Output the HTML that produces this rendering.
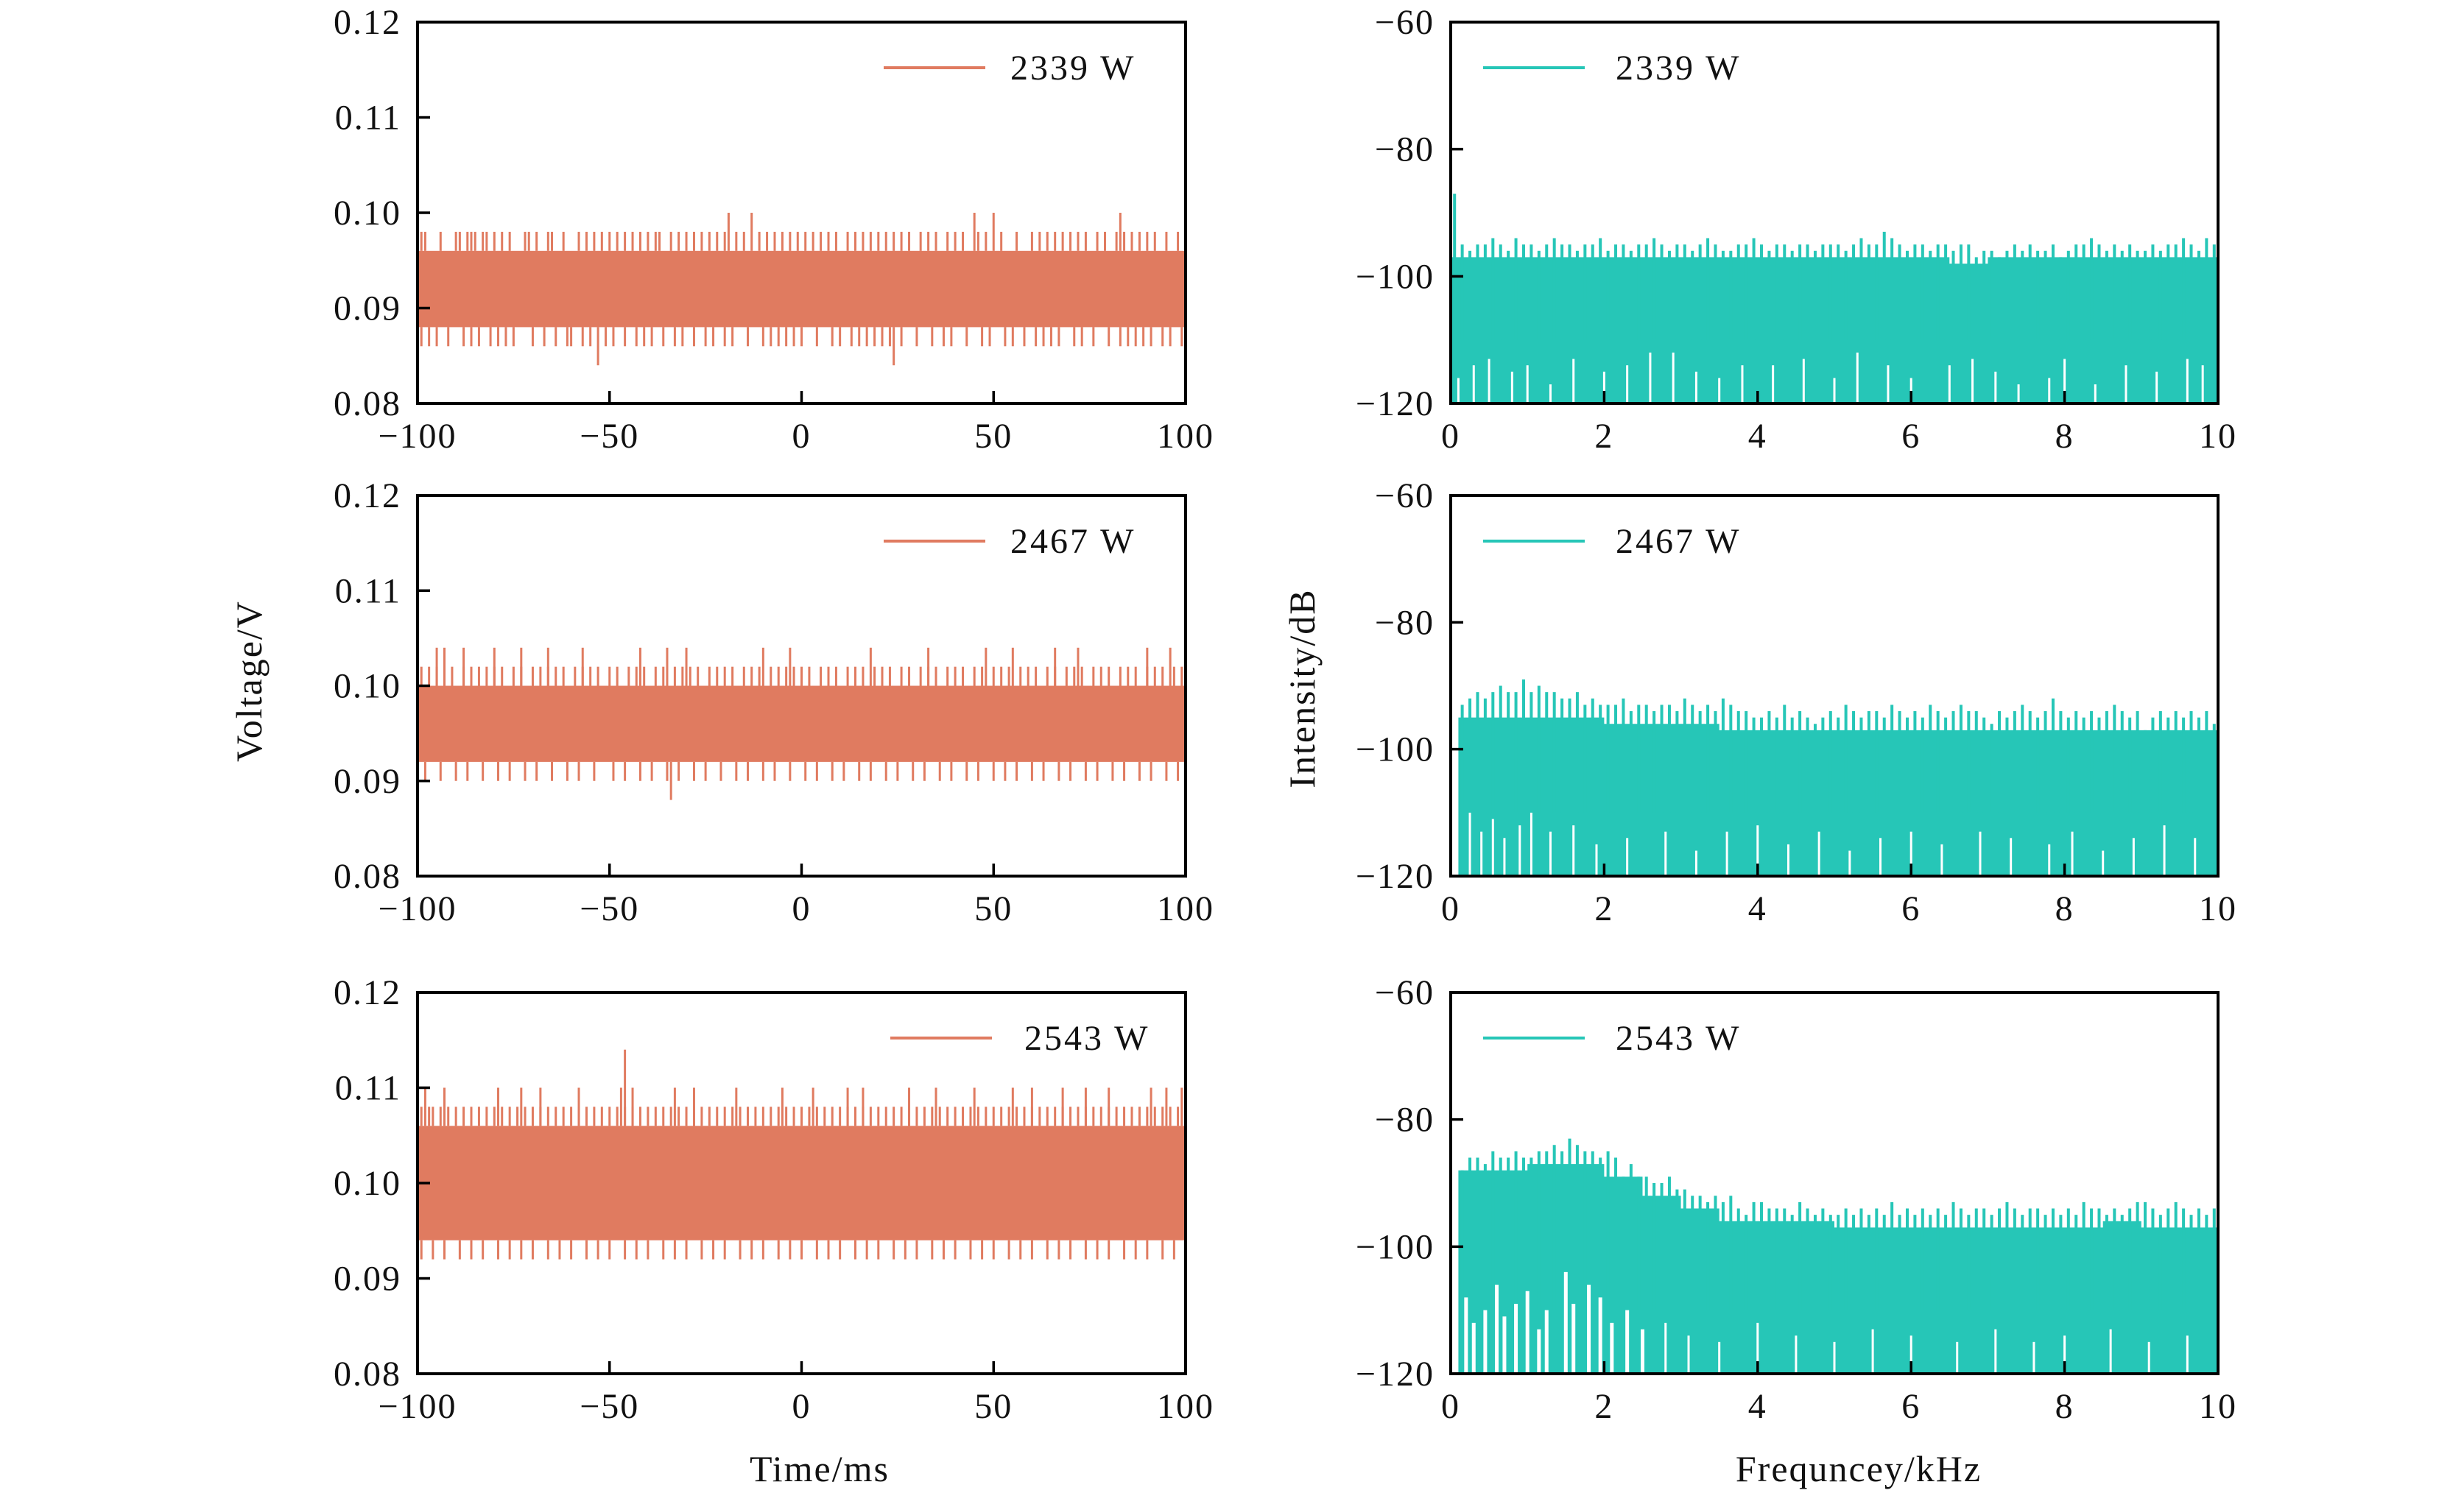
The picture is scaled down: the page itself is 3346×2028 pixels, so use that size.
<!DOCTYPE html>
<html><head><meta charset="utf-8">
<style>
html,body{margin:0;padding:0;background:#fff;}
svg{display:block;}
text{font-family:"Liberation Serif","DejaVu Serif",serif;fill:#111;}
</style></head>
<body>
<svg id="fig" width="3346" height="2028" viewBox="0 0 3346 2028" xmlns="http://www.w3.org/2000/svg">
<text x="0" y="0" font-size="50" letter-spacing="2" text-anchor="middle" transform="translate(355,925) rotate(-90)">Voltage/V</text>
<text x="0" y="0" font-size="50" letter-spacing="2" text-anchor="middle" transform="translate(1785,935) rotate(-90)">Intensity/dB</text>
<text x="1113" y="2012" font-size="50" letter-spacing="2" text-anchor="middle">Time/ms</text>
<text x="2524" y="2012" font-size="50" letter-spacing="2" text-anchor="middle">Frequncey/kHz</text>
</svg>
<script>
// ---------- time-domain data (ms, V) ----------
const timeLabels = ["2339 W","2467 W","2543 W"];
const bandLow = [0.088, 0.092, 0.094];
const bandHigh = [0.096, 0.100, 0.106];
const spikeUpLevel1 = [0.098, 0.102, 0.108];
const spikeUpLevel2 = [0.100, 0.104, 0.110];
const spikeUpLevel3 = [null, null, 0.114];
const spikeDownLevel1 = [0.086, 0.090, 0.092];
const spikeDownLevel2 = [0.084, 0.088, null];
const up1Pos0 = [-99,-98,-94,-90,-89,-87,-86,-85,-83,-82,-80,-78,-76,-72,-71,-69,-66,-65,-62,-58,-56,-54,-52,-50,-48,-46,-44,-42,-40,-38,-37,-34,-32,-30,-28,-26,-24,-22,-20,-17,-15,-11,-9,-7,-5,-3,-1,1,3,5,7,9,12,14,16,18,20,22,24,26,28,31,33,35,38,40,42,46,48,52,56,60,62,64,66,68,70,72,74,77,79,82,84,86,88,90,92,95,98];
const up2Pos0 = [-19,-13,45,50,83];
const up3Pos0 = [];
const dn1Pos0 = [-99,-97,-95,-92,-88,-86,-84,-81,-79,-77,-75,-70,-67,-64,-61,-60,-57,-55,-51,-49,-46,-43,-41,-39,-36,-33,-31,-28,-25,-23,-20,-18,-14,-10,-8,-6,-4,-2,0,4,8,10,13,15,17,19,21,23,26,30,34,37,39,43,47,49,53,55,58,61,63,65,67,71,73,76,80,83,85,87,89,91,94,96,99];
const dn2Pos0 = [-53,24];
const up1Pos1 = [-99,-97,-95,-93,-91,-88,-86,-84,-82,-80,-78,-75,-73,-70,-68,-66,-64,-62,-59,-57,-55,-53,-50,-48,-45,-43,-41,-38,-36,-33,-31,-29,-27,-24,-22,-20,-18,-15,-13,-11,-8,-6,-4,-2,0,2,5,7,9,12,14,16,19,21,23,26,28,31,33,35,38,40,42,45,47,50,52,54,57,59,61,64,66,69,71,73,76,78,80,83,85,87,90,92,94,97,99];
const up2Pos1 = [-95,-93,-88,-80,-73,-66,-57,-42,-35,-30,-10,-3,18,33,48,55,66,72,90,96];
const up3Pos1 = [];
const dn1Pos1 = [-98,-94,-90,-87,-83,-79,-76,-72,-69,-65,-61,-58,-54,-49,-46,-42,-39,-35,-32,-28,-25,-21,-17,-14,-10,-7,-3,1,4,8,11,15,18,22,25,29,32,36,39,43,46,50,53,56,60,63,67,70,74,77,81,84,88,91,95,98];
const dn2Pos1 = [-34];
const up1Pos2 = [-99,-97,-96,-94,-92,-90,-88,-86,-84,-82,-80,-78,-76,-74,-72,-70,-68,-66,-64,-62,-60,-58,-56,-54,-52,-50,-48,-46,-44,-42,-40,-38,-36,-34,-32,-30,-28,-26,-24,-22,-20,-18,-16,-14,-12,-10,-8,-6,-4,-2,0,2,4,6,8,10,12,14,16,18,20,22,24,26,28,30,32,34,36,38,40,42,44,46,48,50,52,54,56,58,60,62,64,66,68,70,72,74,76,78,80,82,84,86,88,90,92,94,96,98];
const up2Pos2 = [-98,-93,-79,-73,-68,-58,-47,-44,-33,-28,-17,-5,3,12,16,28,35,45,55,60,68,74,80,91,95,99];
const up3Pos2 = [-46];
const dn1Pos2 = [-99,-96,-93,-89,-86,-83,-79,-76,-73,-70,-66,-63,-60,-56,-53,-50,-46,-43,-40,-36,-33,-30,-26,-23,-20,-16,-13,-10,-6,-3,0,4,7,10,14,17,20,24,27,30,34,37,40,44,47,50,54,57,60,64,67,70,74,77,80,84,87,90,94,97,100];
const dn2Pos2 = [];

// ---------- spectra data (kHz, dB) ----------
const specStart = [0.0, 0.1, 0.1];
const solidTop0 = [-97,-97,-97,-97,-97,-97,-97,-97,-97,-97,-97,-97,-97,-98,-97,-97,-97,-97,-97,-97];
const solidTop1 = [-95,-95,-95,-95,-96,-96,-96,-97,-97,-97,-97,-97,-97,-97,-97,-97,-97,-97,-97,-97];
const solidTop2 = [-88,-88,-87,-87,-89,-92,-94,-96,-96,-96,-97,-97,-97,-97,-97,-97,-97,-96,-97,-97];
const peaks0 = [-87,-95,-96,-95,-95,-94,-95,-96,-94,-95,-95,-96,-95,-94,-95,-95,-96,-95,-95,-94,-96,-95,-95,-96,-95,-95,-94,-95,-96,-95,-95,-96,-95,-94,-95,-96,-96,-95,-95,-94,-95,-96,-95,-95,-96,-95,-95,-96,-95,-95,-95,-96,-95,-94,-95,-95,-93,-94,-95,-96,-95,-95,-96,-95,-95,-96,-95,-95,-97,-96,-96,-97,-96,-95,-96,-95,-96,-96,-95,-97,-96,-95,-95,-94,-95,-96,-95,-96,-95,-96,-96,-95,-96,-95,-95,-94,-95,-96,-94,-95];
const peaks1 = [null,-93,-92,-91,-92,-91,-90,-91,-91,-89,-91,-90,-91,-91,-92,-92,-91,-93,-92,-93,-93,-93,-92,-94,-93,-93,-94,-93,-93,-94,-92,-93,-94,-93,-94,-92,-93,-94,-94,-95,-95,-94,-95,-93,-95,-94,-95,-96,-95,-94,-95,-93,-94,-95,-94,-94,-95,-93,-94,-95,-94,-95,-93,-94,-95,-94,-93,-94,-94,-95,-96,-94,-95,-94,-93,-94,-95,-94,-92,-94,-95,-94,-95,-94,-95,-94,-93,-94,-95,-94,-97,-95,-94,-95,-94,-95,-94,-95,-94,-96];
const peaks2 = [null,-88,-86,-86,-87,-85,-86,-86,-85,-86,-86,-85,-85,-84,-85,-83,-84,-85,-85,-86,-85,-86,-89,-87,-89,-89,-90,-90,-89,-91,-91,-92,-92,-93,-92,-93,-92,-94,-95,-93,-93,-94,-94,-94,-95,-93,-94,-95,-94,-95,-95,-94,-95,-94,-95,-94,-95,-93,-95,-94,-95,-94,-95,-94,-95,-93,-94,-95,-94,-94,-95,-94,-93,-94,-95,-94,-94,-95,-94,-95,-94,-95,-93,-94,-94,-95,-94,-95,-94,-93,-93,-94,-95,-94,-93,-94,-95,-94,-95,-94];
const dips0 = [[0.1,-116],[0.3,-114],[0.5,-113],[0.8,-115],[1.0,-114],[1.3,-117],[1.6,-113],[2.0,-115],[2.3,-114],[2.6,-112],[2.9,-112],[3.2,-115],[3.5,-116],[3.8,-114],[4.2,-114],[4.6,-113],[5.0,-116],[5.3,-112],[5.7,-114],[6.0,-116],[6.5,-114],[6.8,-113],[7.1,-115],[7.4,-117],[7.8,-116],[8.0,-113],[8.4,-117],[8.8,-114],[9.2,-115],[9.6,-113],[9.8,-114]];
const dips1 = [[0.25,-110],[0.4,-113],[0.55,-111],[0.7,-114],[0.9,-112],[1.05,-110],[1.3,-113],[1.6,-112],[1.9,-115],[2.3,-114],[2.8,-113],[3.2,-116],[3.6,-113],[4.0,-112],[4.4,-115],[4.8,-113],[5.2,-116],[5.6,-114],[6.0,-113],[6.4,-115],[6.9,-113],[7.3,-114],[7.8,-115],[8.1,-113],[8.5,-116],[8.9,-114],[9.3,-112],[9.7,-114]];
const dips2 = [[0.2,-108],[0.3,-112],[0.45,-110],[0.6,-106],[0.7,-111],[0.85,-109],[1.0,-107],[1.15,-113],[1.25,-110],[1.5,-104],[1.6,-109],[1.8,-106],[1.95,-108],[2.1,-112],[2.3,-110],[2.5,-113],[2.8,-112],[3.1,-114],[3.5,-115],[4.0,-112],[4.5,-114],[5.0,-115],[5.5,-113],[6.0,-114],[6.6,-115],[7.1,-113],[7.6,-115],[8.0,-114],[8.6,-113],[9.1,-115],[9.6,-114]];

const timeTicksX = [-100,-50,0,50,100];
const timeTickLabelsX = ["\u2212100","\u221250","0","50","100"];
const timeTicksY = [0.08,0.09,0.10,0.11,0.12];
const timeTickLabelsY = ["0.08","0.09","0.10","0.11","0.12"];
const freqTicksX = [0,2,4,6,8,10];
const freqTickLabelsX = ["0","2","4","6","8","10"];
const freqTicksY = [-120,-100,-80,-60];
const freqTickLabelsY = ["\u2212120","\u2212100","\u221280","\u221260"];

const ORANGE = "#E07B60", TEAL = "#26C6B7";
const rows = [[30,548],[673,1190],[1348,1866]];
const colL = [567,1610], colR = [1970,3012];
const svg = document.getElementById('fig');
const NS = "http://www.w3.org/2000/svg";
function mk(tag, attrs, parent){
  const e = document.createElementNS(NS, tag);
  for (const k in attrs) e.setAttribute(k, attrs[k]);
  (parent||svg).appendChild(e);
  return e;
}

function axes(g, x0,x1,y0,y1, xs, ys, tX, tXL, tY, tYL){
  tX.forEach((v,i)=>{
    const t = mk('line',{x1:xs(v),x2:xs(v),y1:y1,y2:y1-17,stroke:'#000','stroke-width':3.5},g);
    
    
    const l = mk('text',{x:xs(v),y:y1+60,'font-size':48,'letter-spacing':2,'text-anchor':'middle'},g);
    l.textContent = tXL[i];
    
    
  });
  tY.forEach((v,i)=>{
    const t = mk('line',{x1:x0,x2:x0+17,y1:ys(v),y2:ys(v),stroke:'#000','stroke-width':3.5},g);
    
    
    const l = mk('text',{x:x0-22,y:ys(v)+16,'font-size':48,'letter-spacing':2,'text-anchor':'end'},g);
    l.textContent = tYL[i];
    
    
  });
  const f = mk('rect',{x:x0,y:y0,width:x1-x0,height:y1-y0,fill:'none',stroke:'#000','stroke-width':4},g);
  
  
}

function legend(g, lx, y, label, color, textX){
  const ln = mk('line',{x1:lx,x2:lx+138,y1:y,y2:y,stroke:color,'stroke-width':4},g);
  
  
  const t = mk('text',{x:textX,y:y+16,'font-size':48,'letter-spacing':3},g);
  t.textContent = label;
  
  
}

const up1 = [up1Pos0, up1Pos1, up1Pos2], up2 = [up2Pos0, up2Pos1, up2Pos2], up3 = [up3Pos0, up3Pos1, up3Pos2];
const dn1 = [dn1Pos0, dn1Pos1, dn1Pos2], dn2 = [dn2Pos0, dn2Pos1, dn2Pos2];
const solids = [solidTop0, solidTop1, solidTop2], peaks = [peaks0, peaks1, peaks2], dips = [dips0, dips1, dips2];

for (let r=0;r<3;r++){
  const [y0,y1] = rows[r];
  const [x0,x1] = colL;
  const g = mk('g',{});
  
  
  const xs = v => x0 + (v+100)/200*(x1-x0);
  const ys = v => y1 - (v-0.08)/0.04*(y1-y0);
  const band = mk('rect',{x:xs(-100),y:ys(bandHigh[r]),width:xs(100)-xs(-100),height:ys(bandLow[r])-ys(bandHigh[r]),fill:ORANGE},g);
  
  
  const spk = (list, from, to, name) => {
    if (to===null) return;
    list.forEach(p=>{
      const s = mk('line',{x1:xs(p),x2:xs(p),y1:ys(from),y2:ys(to),stroke:ORANGE,'stroke-width':3},g);
      
      
    });
  };
  spk(up1[r], bandHigh[r], spikeUpLevel1[r], 'voltage-spike-up');
  spk(up2[r], bandHigh[r], spikeUpLevel2[r], 'voltage-spike-up-high');
  spk(up3[r], bandHigh[r], spikeUpLevel3[r], 'voltage-spike-up-max');
  spk(dn1[r], bandLow[r], spikeDownLevel1[r], 'voltage-spike-down');
  spk(dn2[r], bandLow[r], spikeDownLevel2[r], 'voltage-spike-down-low');
  axes(g,x0,x1,y0,y1,xs,ys,timeTicksX,timeTickLabelsX,timeTicksY,timeTickLabelsY);
  legend(g, r===2?1209:1200, y0+62, timeLabels[r], ORANGE, r===2?1391:1372);

  const [u0,u1] = colR;
  const h = mk('g',{});
  
  
  const fx = v => u0 + v/10*(u1-u0);
  const fy = v => y1 - (v+120)/60*(y1-y0);
  const st = solids[r];
  let pts = [[fx(specStart[r]), fy(-120)]];
  st.forEach((v,i)=>{
    const f = Math.max(specStart[r], i*0.5);
    pts.push([fx(f), fy(v)]);
    pts.push([fx((i+1)*0.5), fy(v)]);
  });
  pts.push([fx(10), fy(-120)]);
  const poly = mk('polygon',{points:pts.map(p=>p.join(',')).join(' '),fill:TEAL},h);
  
  
  peaks[r].forEach((v,i)=>{
    if (v===null) return;
    const fc = (i+0.5)*0.1;
    const b = mk('line',{x1:fx(fc),x2:fx(fc),y1:fy(v),y2:fy(-110),stroke:TEAL,'stroke-width':4},h);
    
    
  });
  dips[r].forEach(d=>{
    const w = mk('line',{x1:fx(d[0]),x2:fx(d[0]),y1:fy(-120)-2,y2:fy(d[1]),stroke:'#fff','stroke-width':r===2&&d[0]<2.6?5:3},h);
    
    
  });
  axes(h,u0,u1,y0,y1,fx,fy,freqTicksX,freqTickLabelsX,freqTicksY,freqTickLabelsY);
  legend(h, 2014, y0+62, timeLabels[r], TEAL, 2194);
}
</script>
</body></html>
